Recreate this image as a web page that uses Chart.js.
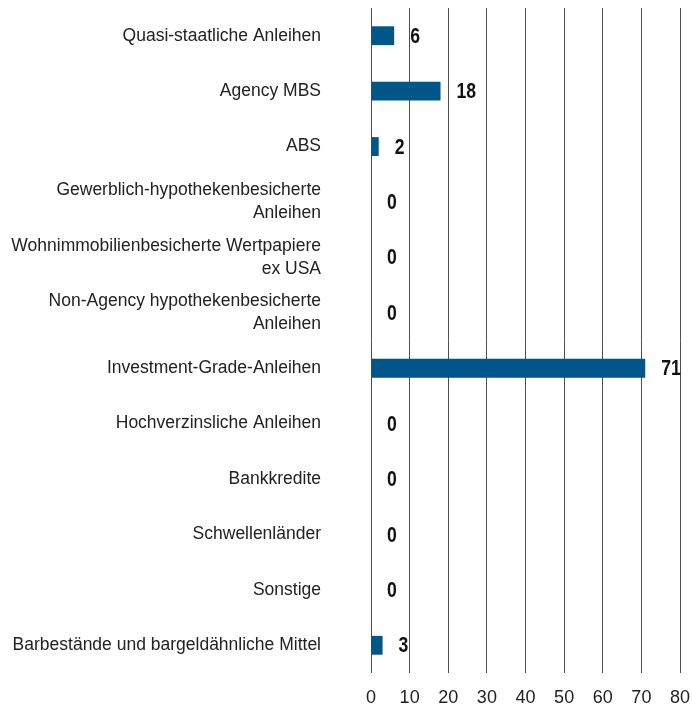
<!DOCTYPE html>
<html lang="de">
<head>
    <meta charset="UTF-8">
    <title>Sektorallokation</title>
    <script src="https://cdn.jsdelivr.net/npm/chart.js"></script>
    <style>
        * {
            box-sizing: border-box;
            margin: 0;
            padding: 0;
        }
        body {
            background-color: #ffffff;
            width: 692px;
            height: 713px;
            overflow: hidden;
        }
        .chart-wrap {
            position: relative;
            width: 692px;
            height: 713px;
        }
    </style>
</head>
<body>

<div class="chart-wrap">
    <canvas id="sectorChart"></canvas>
</div>

<script>
    // Data
    var categories = [
        'Quasi-staatliche Anleihen',
        'Agency MBS',
        'ABS',
        ['Gewerblich-hypothekenbesicherte', 'Anleihen'],
        ['Wohnimmobilienbesicherte Wertpapiere', 'ex USA'],
        ['Non-Agency hypothekenbesicherte', 'Anleihen'],
        'Investment-Grade-Anleihen',
        'Hochverzinsliche Anleihen',
        'Bankkredite',
        'Schwellenländer',
        'Sonstige',
        'Barbestände und bargeldähnliche Mittel'
    ];
    var values = [6, 18, 2, 0, 0, 0, 71, 0, 0, 0, 0, 3];
    var xTicks = [0, 10, 20, 30, 40, 50, 60, 70, 80];

    var fontFamily = "'Liberation Sans', Arial, sans-serif";

    // value labels next to each bar (narrow bold look)
    var valueLabels = {
        id: 'valueLabels',
        afterDatasetsDraw: function(chart) {
            var ctx = chart.ctx;
            var meta = chart.getDatasetMeta(0);
            meta.data.forEach(function(bar, i) {
                ctx.save();
                ctx.translate(bar.x + 16, bar.y + 1);
                ctx.scale(0.8, 1);
                ctx.font = 'bold 22px ' + fontFamily;
                ctx.fillStyle = '#111111';
                ctx.textAlign = 'left';
                ctx.textBaseline = 'middle';
                ctx.fillText(String(values[i]), 0, 0);
                ctx.restore();
            });
        }
    };

    var ctx = document.getElementById('sectorChart').getContext('2d');
    var sectorChart = new Chart(ctx, {
        type: 'bar',
        data: {
            labels: categories,
            datasets: [{
                data: values,
                backgroundColor: '#005589',
                borderWidth: 0,
                barPercentage: 0.68,
                categoryPercentage: 0.5
            }]
        },
        options: {
            indexAxis: 'y',
            responsive: true,
            maintainAspectRatio: false,
            animation: false,
            layout: {
                padding: { top: 8, right: 12, bottom: 6, left: 0 }
            },
            plugins: {
                legend: { display: false },
                tooltip: { enabled: false }
            },
            scales: {
                x: {
                    min: 0,
                    max: 80,
                    afterBuildTicks: function(scale) {
                        scale.ticks = xTicks.map(function(v) { return { value: v }; });
                    },
                    afterFit: function(scale) {
                        scale.height = 34;
                        scale.paddingLeft = 0;
                        scale.paddingRight = 0;
                    },
                    grid: {
                        color: '#4d4d4d',
                        lineWidth: 1,
                        drawTicks: false
                    },
                    border: { display: false },
                    ticks: {
                        color: '#222222',
                        padding: 14,
                        maxRotation: 0,
                        font: { family: fontFamily, size: 18 }
                    }
                },
                y: {
                    afterFit: function(scale) {
                        scale.width = 371;
                        scale.paddingTop = 0;
                        scale.paddingBottom = 0;
                    },
                    grid: { display: false, drawTicks: false },
                    border: { display: false },
                    ticks: {
                        color: '#222222',
                        padding: 50,
                        autoSkip: false,
                        font: { family: fontFamily, size: 17.5, lineHeight: 1.32 }
                    }
                }
            }
        },
        plugins: [valueLabels]
    });
</script>

</body>
</html>
